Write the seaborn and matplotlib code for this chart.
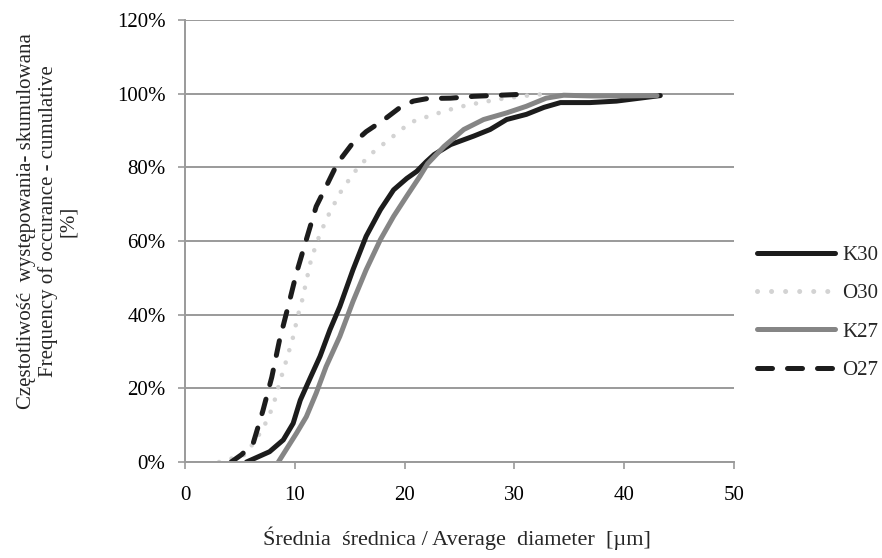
import pandas as pd
import matplotlib
matplotlib.use("Agg")
import matplotlib.pyplot as plt
import seaborn as sns

# --- dane ---
K30_X = [5.6, 7.7, 8.95, 9.85, 10.5, 11.4, 12.3, 13.2, 14.1, 15.3, 16.5, 17.8, 19.0, 20.2,
         21.1, 22.0, 22.7, 24.2, 26.3, 27.8, 29.3, 31.1, 32.7, 34.2, 36.9, 39.3, 43.3]
K30_Y = [0, 2.8, 6, 10.5, 16.8, 22.8, 28.7, 35.9, 42.2, 52.2, 61.3, 68.5, 73.9, 77,
         78.9, 81.6, 83.5, 86.2, 88.5, 90.3, 93, 94.4, 96.3, 97.6, 97.6, 98, 99.5]

O30_X = [3.1, 5.5, 7.1, 8.0, 8.6, 9.2, 9.85, 10.3, 10.6, 11.5, 12.3, 13.2, 14.25, 15.45,
         16.8, 18.3, 19.5, 20.5, 22.7, 24.8, 26.9, 29.0, 31.2, 33.0]
O30_Y = [0, 2, 9, 15, 21.4, 27.3, 34, 40, 43, 55.2, 62, 67.9, 73.7, 78.8,
         83.3, 86.9, 89.7, 92.2, 94.4, 96.3, 97.6, 98.7, 99.5, 100]

K27_X = [8.5, 10.15, 11.05, 11.95, 12.85, 14.1, 15.3, 16.5, 17.8, 19.0, 20.2, 21.4, 22.1,
         23.6, 25.4, 27.2, 29.3, 31.1, 32.9, 34.5, 37.0, 40.0, 43.0]
K27_Y = [0, 7.8, 12.3, 18.7, 25.9, 34.1, 43.6, 52.2, 60.4, 66.7, 72.2, 77.6, 81,
         85.7, 90.3, 93, 94.8, 96.6, 98.8, 99.6, 99.4, 99.4, 99.5]

O27_X = [4.2, 5.15, 6.2, 7.1, 7.9, 8.6, 9.5, 10.15, 11.05, 11.95, 13.0, 13.9, 15.15, 16.5,
         18.1, 19.6, 20.8, 22.1, 24.2, 26.3, 28.7, 30.3]
O27_Y = [0, 2, 5, 14, 23, 33, 43.5, 51.3, 60.4, 69.4, 75.7, 81.2, 86.1, 89.7,
         92.9, 96.3, 98, 98.7, 98.8, 99.3, 99.6, 99.8]

# nazwa, x, y, kolor, styl linii, grubość
SERIES = [
    ("K30", K30_X, K30_Y, "#1c1c1c", "-", 3.6),
    ("O30", O30_X, O30_Y, "#d3d3d3", (0, (0.01, 2.8)), 3.3),
    ("K27", K27_X, K27_Y, "#858585", "-", 3.6),
    ("O27", O27_X, O27_Y, "#1c1c1c", (0, (3.0, 3.0)), 3.6),
]

sns.set_theme(style="white")
plt.rcParams["font.family"] = ["Liberation Serif", "DejaVu Serif"]

FS = 15
fig = plt.figure(figsize=(8.82, 5.58), dpi=100)
ax = fig.add_axes([0.2098, 0.172, 0.6222, 0.792])

for name, xs, ys, col, ls, lw in SERIES:
    df = pd.DataFrame({"x": xs, "y": ys})
    sns.lineplot(data=df, x="x", y="y", ax=ax, color=col, linewidth=lw,
                 label=name, sort=False, estimator=None)
    ln = ax.lines[-1]
    ln.set_linestyle(ls)
    ln.set_dash_capstyle("round")
    ln.set_solid_capstyle("round")
    ln.set_solid_joinstyle("round")
    ln.set_dash_joinstyle("round")

ax.set_xlim(0, 50)
ax.set_ylim(0, 120)
ax.set_xticks(range(0, 51, 10))
ax.set_yticks(range(0, 121, 20))
ax.set_yticklabels([f"{v}%" for v in range(0, 121, 20)])
ax.yaxis.grid(True, color="#9a9a9a", linewidth=1.4)
ax.set_axisbelow(True)

for s in ["top", "right"]:
    ax.spines[s].set_visible(False)
for s in ["left", "bottom"]:
    ax.spines[s].set_color("#9a9a9a")
    ax.spines[s].set_linewidth(1.4)

ax.tick_params(axis="both", labelsize=FS, colors="#9a9a9a", labelcolor="black",
               direction="out", length=5, width=1.2, bottom=True, left=True)
ax.tick_params(axis="x", pad=12)
ax.tick_params(axis="y", pad=9)

ax.set_xlabel("Średnia  średnica / Average  diameter  [µm]", fontsize=16)
ax.xaxis.set_label_coords(0.495, -0.146)
ax.xaxis.label.set_va("top")
ax.set_ylabel("Częstotliwość  występowania- skumulowana\nFrequency of occurance - cumulative\n[%]",
              fontsize=FS, linespacing=1.1)
ax.yaxis.set_label_coords(-0.195, 0.545)

leg = ax.legend(loc="center left", bbox_to_anchor=(1.008, 0.338), frameon=False,
                fontsize=FS, handlelength=3.75, labelspacing=0.9, handletextpad=0.35)
for h in leg.get_lines():
    h.set_linewidth(3.6)

fig.savefig("out.png", dpi=100)
